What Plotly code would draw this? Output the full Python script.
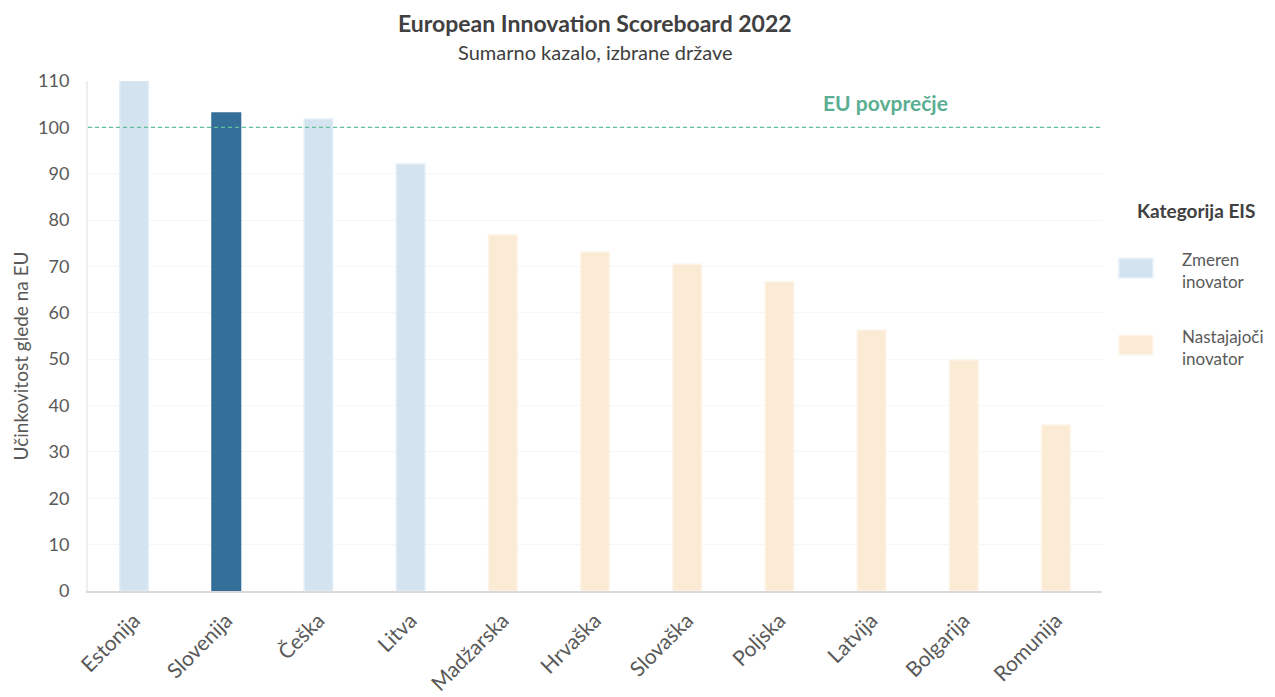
import plotly.graph_objects as go

countries = ["Estonija", "Slovenija", "Češka", "Litva", "Madžarska", "Hrvaška",
             "Slovaška", "Poljska", "Latvija", "Bolgarija", "Romunija"]
values = [110.4, 103.1, 101.8, 92.1, 76.8, 73.1, 70.5, 66.7, 56.3, 49.8, 35.8]
categories = ["Zmeren inovator"] * 4 + ["Nastajajoči inovator"] * 7
highlight = "Slovenija"
eu_average = 100
y_ticks = list(range(0, 111, 10))

cat_colors = {"Zmeren inovator": "#d3e3f0", "Nastajajoči inovator": "#fbebd5"}
cat_lines = {"Zmeren inovator": "#e3eef7", "Nastajajoči inovator": "#fdf3e6"}
hl_color = "#346f99"

colors = [hl_color if c == highlight else cat_colors[k] for c, k in zip(countries, categories)]
lines = [hl_color if c == highlight else cat_lines[k] for c, k in zip(countries, categories)]

FONT = "Lato"
GREY = "#595959"
DARK = "#404040"

fig = go.Figure()
fig.add_trace(go.Bar(
    x=countries, y=values, width=0.31,
    marker=dict(color=colors, line=dict(color=lines, width=1.5)),
    showlegend=False, cliponaxis=True,
))

fig.add_shape(type="line", xref="paper", yref="y", x0=0, x1=1, y0=eu_average, y1=eu_average,
              line=dict(color="#62c09c", width=1.1, dash="4px,3px"))
fig.add_annotation(xref="paper", yref="paper", x=0.786, y=0.957, xanchor="center", yanchor="middle",
                   text="<b>EU povprečje</b>",
                   showarrow=False, font=dict(family=FONT, size=21, color="#5aae91"))

# Titles
fig.add_annotation(xref="paper", yref="paper", x=0.5, y=1.1137, xanchor="center", yanchor="middle",
                   text="<b>European Innovation Scoreboard 2022</b>", showarrow=False,
                   font=dict(family=FONT, size=23, color=DARK))
fig.add_annotation(xref="paper", yref="paper", x=0.5, y=1.057, xanchor="center", yanchor="middle",
                   text="Sumarno kazalo, izbrane države", showarrow=False,
                   font=dict(family=FONT, size=20, color=DARK))
# Y axis title
fig.add_annotation(xref="paper", yref="paper", x=-0.067, y=0.46, xanchor="center", yanchor="middle",
                   textangle=-90, text="Učinkovitost glede na EU", showarrow=False,
                   font=dict(family=FONT, size=19, color=GREY))

# Legend (drawn manually)
fig.add_annotation(xref="paper", yref="paper", x=1.0325, y=0.747, xanchor="left", yanchor="middle",
                   text="<b>Kategorija EIS</b>", showarrow=False,
                   font=dict(family=FONT, size=19, color=DARK))
leg_items = [("Zmeren inovator", "Zmeren<br>inovator", 0.633, 0.629),
             ("Nastajajoči inovator", "Nastajajoči<br>inovator", 0.482, 0.478)]
for key, label, yy, ty in leg_items:
    fig.add_shape(type="rect", xref="paper", yref="paper",
                  x0=1.0168, x1=1.050, y0=yy - 0.019, y1=yy + 0.019,
                  fillcolor=cat_colors[key], line=dict(color=cat_lines[key], width=1.5))
    fig.add_annotation(xref="paper", yref="paper", x=1.077, y=ty, xanchor="left", yanchor="middle",
                       align="left", text=label, showarrow=False,
                       font=dict(family=FONT, size=17, color=GREY))

# page body has an 8px default margin, so the figure is offset by 8px
fig.update_layout(
    width=1267, height=689,
    margin=dict(l=80, r=173, t=73, b=106),
    paper_bgcolor="white", plot_bgcolor="white",
    font=dict(family=FONT, color=GREY),
    bargap=0.69,
)
fig.update_xaxes(tickangle=-45, tickfont=dict(family=FONT, size=21, color=GREY),
                 showline=True, linecolor="#d9d9d9", linewidth=2, showgrid=False,
                 ticks="", ticklen=0, ticklabelstandoff=7, automargin=False)
fig.update_yaxes(range=[0, 110], tickvals=y_ticks, tickfont=dict(family=FONT, size=18, color=GREY),
                 showgrid=True, gridcolor="#f6f6f6", gridwidth=1, zeroline=False,
                 showline=True, linecolor="#eeeeee", linewidth=2,
                 ticks="", ticklabelstandoff=13, automargin=False)

fig.write_html("out.html")
